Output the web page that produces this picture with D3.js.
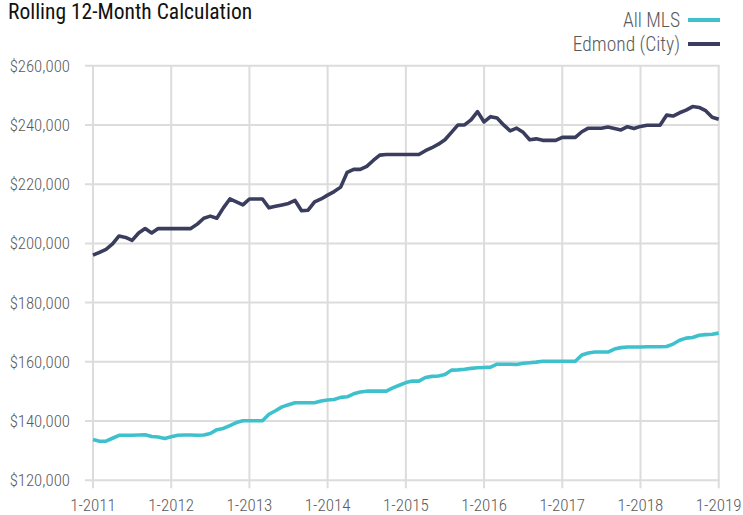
<!DOCTYPE html>
<html>
<head>
<meta charset="utf-8">
<script src="https://cdn.jsdelivr.net/npm/d3@7"></script>
<style>
  body { margin: 0; background: #fff; }
  svg text { font-family: "Liberation Sans Narrow", "Roboto Condensed", "Liberation Sans", sans-serif; }
</style>
</head>
<body>
<svg id="chart" width="743" height="515"></svg>
<script>
// monthly values, 1-2011 .. 1-2019 (97 months)
var edmond = [
  196000,197000,198000,199800,202500,202000,201000,203500,205000,203500,205000,205000,
  205000,205000,205000,205000,206500,208500,209200,208500,212000,215000,214000,213000,
  215000,215000,215000,212000,212500,213000,213500,214500,211000,211200,214000,215000,
  216300,217500,219000,224000,225000,225000,226000,228000,229800,230000,230000,230000,
  230000,230000,230000,231300,232300,233500,235000,237500,240000,240000,241700,244500,
  241000,242800,242300,240000,238000,238900,237500,235000,235300,234800,234800,234800,
  235800,235800,235800,237700,238900,238900,238900,239300,238800,238300,239400,238800,
  239500,239900,239900,239900,243300,243000,244100,245000,246200,245900,244800,242600,
  241900
];
var allMls = [
  133800,133200,133200,134200,135200,135200,135200,135300,135400,134800,134600,134100,
  134700,135200,135300,135300,135200,135300,135800,137100,137500,138500,139500,140100,
  140100,140100,140100,142300,143500,144800,145500,146200,146200,146200,146200,146800,
  147100,147300,148000,148200,149200,149800,150100,150100,150100,150100,151200,152100,
  153000,153500,153500,154700,155100,155200,155700,157200,157300,157500,157800,158000,
  158100,158200,159200,159200,159200,159100,159500,159700,159900,160200,160200,160200,
  160200,160200,160200,162300,163000,163300,163300,163300,164300,164800,165000,165000,
  165000,165100,165100,165100,165200,166000,167300,168000,168200,169000,169200,169300,
  169700
];
var years = [2011,2012,2013,2014,2015,2016,2017,2018,2019];
var yTicks = [120000,140000,160000,180000,200000,220000,240000,260000];
var seriesNames = ["All MLS", "Edmond (City)"];
var seriesColors = ["#3fc1cd", "#3b3d5e"];

var svg = d3.select("#chart");
var plotL = 93, plotR = 718.7, plotT = 65.7, plotB = 480.3;

var x = d3.scaleLinear().domain([0, 96]).range([plotL, plotR]);
var y = d3.scaleLinear().domain([120000, 260000]).range([plotB, plotT]);

// grid
var grid = svg.append("g").attr("stroke", "#dcdcdc").attr("stroke-width", 2);
grid.selectAll(".hg").data(yTicks).enter().append("line")
  .attr("x1", 85).attr("x2", plotR + 1)
  .attr("y1", function (d) { return y(d); })
  .attr("y2", function (d) { return y(d); });
grid.selectAll(".vg").data(years).enter().append("line")
  .attr("x1", function (d, i) { return x(i * 12); })
  .attr("x2", function (d, i) { return x(i * 12); })
  .attr("y1", plotT).attr("y2", plotB + 8);

// y labels
svg.append("g").selectAll("text").data(yTicks).enter().append("text")
  .attr("x", 70).attr("y", function (d) { return y(d) + 6; })
  .attr("text-anchor", "end").attr("fill", "#5a5a5a").attr("font-size", 16.8)
  .attr("font-weight", 300)
  .text(function (d) { return "$" + d3.format(",")(d); });

// x labels
svg.append("g").selectAll("text").data(years).enter().append("text")
  .attr("x", function (d, i) { return x(i * 12); }).attr("y", 511)
  .attr("text-anchor", "middle").attr("fill", "#5a5a5a").attr("font-size", 17)
  .attr("font-weight", 300)
  .text(function (d) { return "1-" + d; });

// lines
var line = d3.line()
  .x(function (d, i) { return x(i); })
  .y(function (d) { return y(d); });
[allMls, edmond].forEach(function (s, k) {
  svg.append("path").datum(s)
    .attr("fill", "none").attr("stroke", seriesColors[k])
    .attr("stroke-width", 3.6).attr("stroke-linejoin", "round")
    .attr("d", line);
});

// title
svg.append("text").attr("x", 8).attr("y", 19)
  .attr("fill", "#111").attr("font-size", 21.5)
  .text("Rolling 12-Month Calculation");

// legend
var lg = svg.append("g").selectAll("g").data(seriesNames).enter().append("g")
  .attr("transform", function (d, i) { return "translate(0," + (20 + i * 24) + ")"; });
lg.append("text").attr("x", 680).attr("y", 7).attr("text-anchor", "end")
  .attr("fill", "#5a5a5a").attr("font-size", 19.5).attr("font-weight", 300)
  .text(function (d) { return d; });
lg.append("line").attr("x1", 688).attr("x2", 720).attr("y1", 0).attr("y2", 0)
  .attr("stroke", function (d, i) { return seriesColors[i]; }).attr("stroke-width", 4);
</script>
</body>
</html>
